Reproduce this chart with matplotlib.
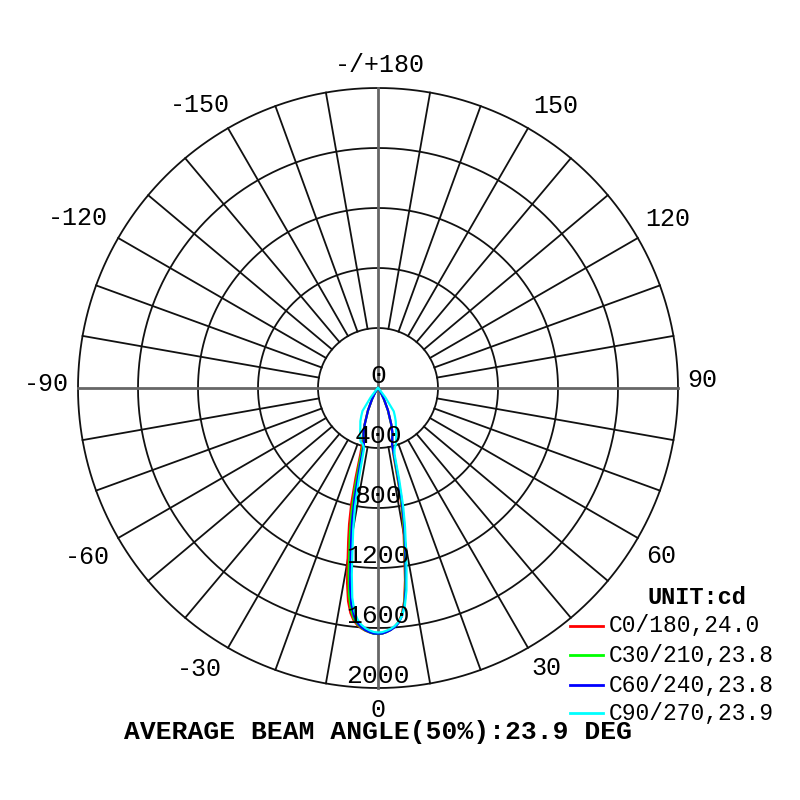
import numpy as np
import matplotlib
matplotlib.use("Agg")
import matplotlib.pyplot as plt
from matplotlib.lines import Line2D

# gamma angles (deg) of the measured intensities
gamma = [0, 1, 2, 3, 4, 5, 6, 7, 8, 9, 10, 11, 12, 13, 14, 15,
         16, 17, 18, 20, 24, 28, 31, 34, 38, 42, 50, 60, 90]

# intensity (cd) per half plane: left half = C0/C30/C60/C90, right half = C180/C210/C240/C270
c0 = [1640, 1638, 1630, 1620, 1606, 1587, 1558, 1511, 1435, 1317, 1166, 1042, 927, 794, 621, 451,
      390, 350, 320, 265, 165, 85, 45, 22, 10, 5, 2, 1, 0]
c180 = [1640, 1637, 1627, 1614, 1595, 1566, 1516, 1432, 1294, 1120, 985, 845, 676, 463, 390, 365,
        340, 325, 305, 255, 160, 80, 40, 20, 10, 5, 2, 1, 0]
c30 = [1640, 1638, 1629, 1618, 1602, 1580, 1545, 1486, 1391, 1250, 1099, 978, 848, 684, 498, 370,
       355, 335, 312, 262, 165, 85, 45, 22, 10, 5, 2, 1, 0]
c210 = [1640, 1637, 1628, 1615, 1596, 1569, 1522, 1444, 1316, 1143, 1010, 877, 708, 508, 395, 368,
        342, 327, 307, 257, 162, 82, 42, 21, 10, 5, 2, 1, 0]
c60 = [1638, 1637, 1628, 1616, 1598, 1572, 1528, 1455, 1336, 1172, 1033, 907, 752, 553, 390, 365,
       345, 330, 310, 260, 165, 85, 45, 22, 10, 5, 2, 1, 0]
c240 = [1638, 1637, 1628, 1616, 1598, 1572, 1528, 1455, 1336, 1172, 1033, 907, 752, 553, 390, 365,
        345, 330, 310, 260, 165, 85, 45, 22, 10, 5, 2, 1, 0]
c90 = [1630, 1627, 1617, 1603, 1583, 1552, 1499, 1408, 1256, 1087, 951, 803, 605, 417, 400, 390,
       385, 380, 375, 350, 290, 250, 215, 185, 80, 20, 5, 2, 0]
c270 = [1630, 1628, 1619, 1608, 1591, 1567, 1529, 1466, 1363, 1215, 1068, 945, 808, 630, 456, 425,
        410, 400, 388, 355, 295, 252, 218, 188, 80, 20, 5, 2, 0]

planes = [
    ("C0/180,24.0", c0, c180, "#ff0000"),
    ("C30/210,23.8", c30, c210, "#00ff00"),
    ("C60/240,23.8", c60, c240, "#0000ff"),
    ("C90/270,23.9", c90, c270, "#00ffff"),
]

ring_values = [0, 400, 800, 1200, 1600, 2000]
angle_labels = ["0", "30", "60", "90", "120", "150", "-/+180",
                "-150", "-120", "-90", "-60", "-30"]
# label centres in pixels (from the top-left corner)
angle_label_xy = [(378, 710), (546, 668), (661, 556), (702, 380), (668, 219), (556, 106),
                  (380, 65), (200, 105), (78, 218), (46, 384), (87, 557), (199, 669)]
title = "AVERAGE BEAM ANGLE(50%):23.9 DEG"

FONT = "Liberation Mono"
RMAX = 2000


def fx(x):
    return x / 800


def fy(y):
    return 1 - y / 800


fig = plt.figure(figsize=(8, 8), dpi=100)
fig.patch.set_facecolor("white")
ax = fig.add_axes([fx(78), fy(688), 600 / 800, 600 / 800], projection="polar")
ax.set_theta_zero_location("S")
ax.set_theta_direction(1)
ax.set_ylim(0, RMAX)
ax.set_xticks([])
ax.set_yticks([])
ax.grid(False)
ax.spines["polar"].set_visible(False)

# grid: rings and 10 degree spokes
full = np.linspace(0, 2 * np.pi, 721)
for r in ring_values[1:]:
    ax.plot(full, np.full_like(full, r), color="#111111", lw=1.3, zorder=1, clip_on=False)
for a in range(0, 360, 10):
    t = np.radians(a)
    if a % 90 == 0:
        ax.plot([t, t], [0, RMAX], color="#666666", lw=2.0, zorder=1, clip_on=False)
    else:
        ax.plot([t, t], [400, RMAX], color="#111111", lw=1.3, zorder=1, clip_on=False)

# curves: left half drawn at negative angles, right half at positive angles
g = np.radians(gamma)
for name, left, right, col in planes:
    th = np.concatenate([-g[::-1], g[1:]])
    rr = np.concatenate([np.array(left)[::-1], np.array(right)[1:]])
    ax.plot(th, rr, color=col, lw=1.6, zorder=3)

# ring labels
for r in ring_values:
    ax.text(0, r, str(r), ha="center", va="bottom", fontsize=19,
            family=FONT, color="black", zorder=4)

# angle labels
for lab, (x, y) in zip(angle_labels, angle_label_xy):
    fig.text(fx(x), fy(y), lab, ha="center", va="center", fontsize=18, family=FONT)

# legend
fig.text(fx(697), fy(597), "UNIT:cd", ha="center", va="center", fontsize=17,
         family=FONT, fontweight="bold")
rows = [626, 655, 685, 713]
for (name, left, right, col), y in zip(planes, rows):
    fig.add_artist(Line2D([fx(570), fx(603)], [fy(y), fy(y)], color=col, lw=2))
    fig.text(fx(609), fy(y), name, ha="left", va="center", fontsize=16.5, family=FONT)

fig.text(fx(378), fy(732), title, ha="center", va="center", fontsize=19,
         family=FONT, fontweight="bold")

fig.savefig("out.png", dpi=100)
